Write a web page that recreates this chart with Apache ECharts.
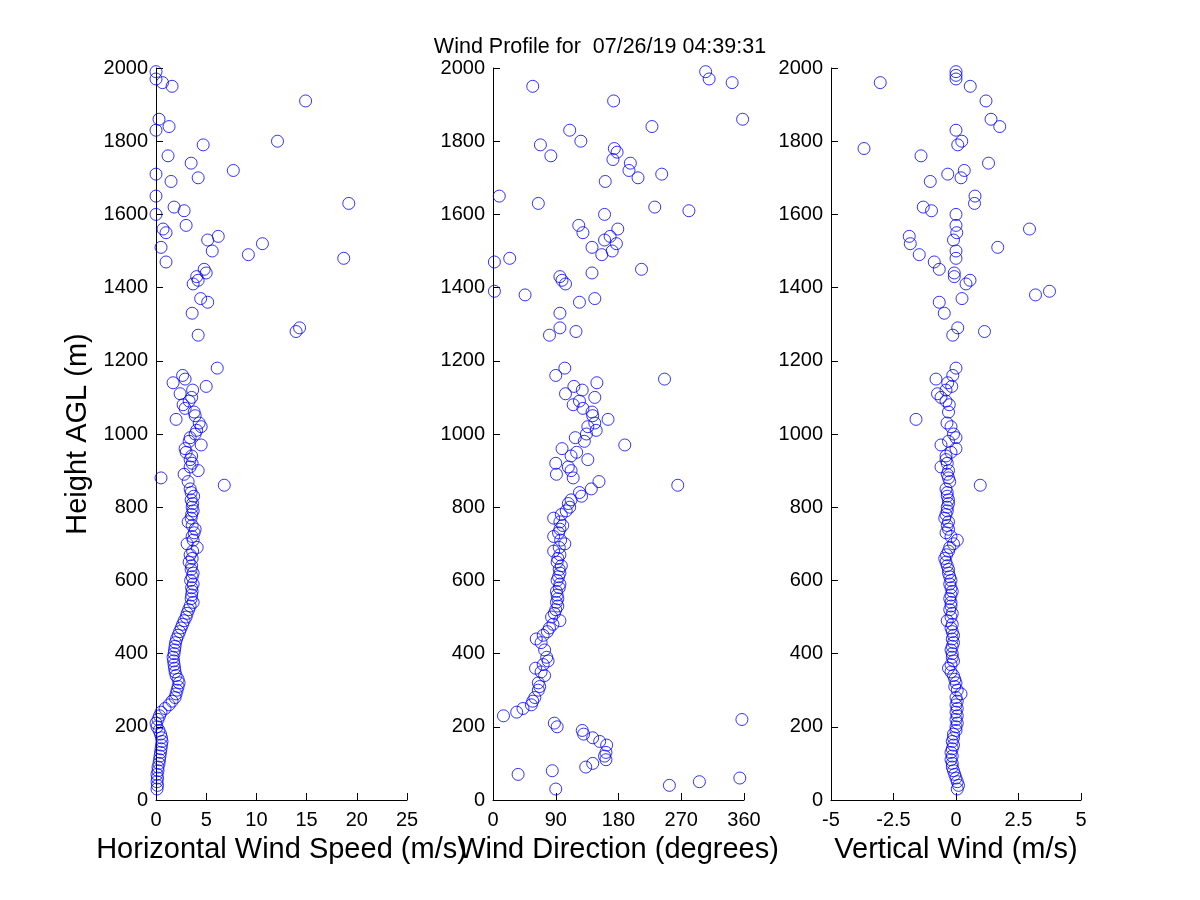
<!DOCTYPE html>
<html>
<head>
<meta charset="utf-8">
<script src="https://cdn.jsdelivr.net/npm/echarts@6/dist/echarts.min.js"></script>
<style>html,body{margin:0;padding:0;background:#fff;}#c{width:1200px;height:900px;}</style>
</head>
<body>
<div id="c"></div>
<script>
const titleText = 'Wind Profile for  07/26/19 04:39:31';
const yAxisName = 'Height AGL (m)';
const xAxisNames = ['Horizontal Wind Speed (m/s)', 'Wind Direction (degrees)', 'Vertical Wind (m/s)'];

const speedHeights = [30,40,50,60,70,80,90,100,110,120,130,140,150,160,170,180,190,200,210,220,230,240,250,260,270,280,290,300,310,320,330,340,350,360,370,380,390,400,410,420,430,440,450,460,470,480,490,500,510,520,530,540,550,560,570,580,590,600,610,620,630,640,650,660,670,680,690,700,710,720,730,740,750,760,770,780,790,800,810,820,830,840,850,860,870,880,890,900,910,920,930,940,950,960,970,980,990,1000,1010,1020,1030,1040,1050,1060,1070,1080,1090,1100,1110,1120,1130,1140,1150,1160,1180,1270,1280,1290,1330,1360,1370,1410,1420,1430,1440,1450,1470,1480,1490,1500,1510,1520,1530,1540,1550,1560,1570,1600,1610,1620,1630,1650,1690,1700,1710,1720,1740,1760,1790,1800,1830,1840,1860,1910,1950,1960,1970,1990];
const speedValues = [0.1,0.15,0.1,0.15,0.1,0.2,0.2,0.3,0.35,0.4,0.45,0.5,0.55,0.6,0.55,0.45,0.3,0.1,0.0,0.2,0.35,0.5,0.9,1.3,1.6,1.9,2.0,2.1,2.2,2.3,2.2,2.0,1.9,1.85,1.8,1.75,1.7,1.8,1.85,1.9,1.95,2.05,2.2,2.35,2.5,2.65,2.8,3.0,3.1,3.25,3.4,3.7,3.5,3.55,3.6,3.55,3.7,3.45,3.6,3.7,3.5,3.55,3.3,3.6,3.4,3.65,4.1,3.1,3.7,3.6,3.8,3.9,3.6,3.2,3.5,3.55,3.7,3.6,3.65,3.5,3.75,3.5,3.4,6.8,3.2,0.5,2.8,4.2,3.4,3.6,3.4,3.55,3.0,2.9,4.5,3.3,3.4,3.9,4.05,4.5,4.3,2.0,3.9,3.8,2.9,2.7,3.3,3.55,2.4,3.65,5.0,1.7,2.9,2.65,6.1,4.2,13.95,14.3,3.6,5.15,4.45,3.7,4.2,4.05,5.0,4.8,1.0,18.7,9.2,5.6,0.5,10.6,5.15,6.2,1.0,0.7,3.0,0,2.8,1.8,19.2,0,1.5,4.2,0,7.7,3.5,1.2,4.7,12.1,0,1.3,0.3,14.9,1.6,0.65,0,0];

const dirHeights = [30,40,50,60,70,80,90,100,110,120,130,150,160,170,180,190,200,210,220,230,240,250,260,270,280,300,310,320,340,350,360,370,380,390,410,430,440,450,460,470,480,490,500,510,520,530,540,550,560,570,580,590,600,610,620,630,640,650,660,670,680,690,700,710,720,730,740,750,760,770,780,790,800,810,820,830,840,850,860,870,880,890,900,910,920,930,940,950,960,970,980,990,1000,1010,1020,1030,1040,1050,1060,1070,1080,1090,1100,1110,1120,1130,1140,1150,1160,1180,1270,1280,1290,1330,1360,1370,1380,1390,1410,1420,1430,1440,1450,1470,1480,1490,1500,1510,1520,1530,1540,1550,1560,1570,1600,1610,1620,1630,1650,1690,1700,1710,1720,1740,1750,1760,1770,1780,1790,1800,1830,1840,1860,1910,1950,1960,1970,1990];
const dirValues = [90,253,296,354,36,85,133,143,162,160,162,163,153,143,130,128,92,88,357,15,34,43,55,57,60,65,67,65,74,69,61,72,79,77,74,69,62,72,78,81,86,96,84,88,90,93,91,93,92,91,95,96,92,94,96,95,98,92,93,96,87,95,103,97,87,94,96,100,96,87,98,105,110,108,112,127,124,141,265,152,115,91,112,108,90,136,112,120,99,189,131,118,134,148,136,146,165,143,142,129,115,124,146,104,128,116,149,246,90,103,81,119,96,96,124,146,46,2,104,99,96,142,213,2,24,156,171,142,177,160,168,129,179,123,160,281,232,65,9,161,208,242,195,197,172,83,178,174,68,126,110,228,358,173,57,343,310,305];

const vertHeights = [30,40,50,60,70,80,90,100,110,120,130,140,150,160,170,180,190,200,210,220,230,240,250,260,270,280,290,300,310,320,330,340,350,360,370,380,390,400,410,420,430,440,450,460,470,480,490,500,510,520,530,540,550,560,570,580,590,600,610,620,630,640,650,660,670,680,690,700,710,720,730,740,750,760,770,780,790,800,810,820,830,840,850,860,870,880,890,900,910,920,930,940,950,960,970,980,990,1000,1020,1030,1040,1060,1080,1090,1100,1110,1120,1130,1140,1150,1160,1180,1270,1280,1290,1330,1360,1370,1380,1390,1410,1420,1430,1440,1450,1470,1480,1490,1500,1510,1520,1530,1540,1550,1560,1570,1600,1610,1620,1630,1650,1690,1700,1710,1720,1740,1760,1780,1790,1800,1830,1840,1860,1910,1950,1960,1970,1980,1990];
const vertValues = [0.05,0.1,0.05,0.0,-0.05,-0.1,-0.15,-0.15,-0.2,-0.15,-0.2,-0.15,-0.1,-0.15,-0.1,-0.1,0.0,0.0,0.05,0.0,0.05,0.0,0.05,0.0,0.05,0.0,0.2,0.05,-0.05,0.0,-0.05,-0.1,-0.2,-0.3,-0.2,-0.1,-0.15,-0.15,-0.2,-0.15,-0.1,-0.15,-0.1,-0.15,-0.2,-0.15,-0.35,-0.2,-0.15,-0.25,-0.2,-0.2,-0.25,-0.2,-0.15,-0.2,-0.25,-0.2,-0.25,-0.3,-0.3,-0.35,-0.4,-0.45,-0.38,-0.3,-0.25,-0.1,0.05,-0.2,-0.4,-0.3,-0.35,-0.3,-0.45,-0.4,-0.35,-0.35,-0.3,-0.3,-0.35,-0.35,-0.4,0.97,-0.25,-0.3,-0.35,-0.3,-0.6,-0.35,-0.4,-0.4,-0.2,0.0,-0.6,-0.3,0.0,-0.1,-0.2,-0.36,-1.6,-0.3,-0.27,-0.4,-0.6,-0.74,-0.4,-0.17,-0.33,-0.8,-0.13,0.0,-0.13,1.14,0.07,-0.47,-0.67,0.24,3.18,3.74,0.4,0.56,-0.07,-0.07,-0.67,-0.87,0,-1.47,0,1.67,-1.83,-0.1,-1.87,0.03,2.94,0,0,-0.98,-1.31,0.74,0.76,-1.03,0.2,-0.33,0.33,1.3,-1.4,-3.68,0.07,0.23,0,1.75,1.4,1.2,0.57,-3.03,0,0,0];

const speedTicks = {min: 0, max: 25, interval: 5};
const dirTicks = {min: 0, max: 360, interval: 90};
const vertTicks = {min: -5, max: 5, interval: 2.5};
const heightTicks = {min: 0, max: 2000, interval: 200};

const FONT = 'Liberation Sans, Arial, sans-serif';
const pairs = (xs, hs) => xs.map((v, i) => [v, hs[i]]);
const plain = v => String(v);

const grids = [
  {left: 156, top: 68, width: 251, height: 732},
  {left: 493, top: 68, width: 251, height: 732},
  {left: 831, top: 68, width: 250, height: 732}
];
const xTicks = [speedTicks, dirTicks, vertTicks];

function axisCommon() {
  return {
    axisLine: {show: true, onZero: false, lineStyle: {color: '#000', width: 1}},
    axisTick: {show: true, inside: true, length: 7, lineStyle: {color: '#000', width: 1}},
    splitLine: {show: false}
  };
}

const xAxes = xTicks.map((t, i) => Object.assign(axisCommon(), {
  type: 'value', gridIndex: i, min: t.min, max: t.max, interval: t.interval,
  name: xAxisNames[i], nameLocation: 'middle', nameGap: 35,
  nameTextStyle: {color: '#000', fontSize: 29, fontFamily: FONT},
  axisLabel: {color: '#000', fontSize: 20, fontFamily: FONT, margin: 10, formatter: plain, showMaxLabel: true, showMinLabel: true}
}));
const yAxes = [0,1,2].map(i => Object.assign(axisCommon(), {
  type: 'value', gridIndex: i, min: heightTicks.min, max: heightTicks.max, interval: heightTicks.interval,
  name: i === 0 ? yAxisName : '', nameLocation: 'middle', nameGap: 64,
  nameTextStyle: {color: '#000', fontSize: 29, fontFamily: FONT},
  axisLabel: {color: '#000', fontSize: 20, fontFamily: FONT, margin: 8, formatter: plain}
}));

const markerStyle = {color: 'rgba(0,0,0,0)', borderColor: '#0000ff', borderWidth: 1};
const seriesData = [pairs(speedValues, speedHeights), pairs(dirValues, dirHeights), pairs(vertValues, vertHeights)];

const chart = echarts.init(document.getElementById('c'), null, {renderer: 'canvas'});
chart.setOption({
  backgroundColor: '#fff',
  animation: false,
  title: {text: titleText, left: 'center', top: 31,
    textStyle: {color: '#000', fontSize: 21.5, fontWeight: 'normal', fontFamily: FONT}},
  grid: grids,
  xAxis: xAxes,
  yAxis: yAxes,
  series: seriesData.map((d, i) => ({
    type: 'scatter', xAxisIndex: i, yAxisIndex: i, data: d,
    symbol: 'circle', symbolSize: 12, clip: false,
    itemStyle: markerStyle,
    emphasis: {disabled: true}
  }))
});
</script>
</body>
</html>
